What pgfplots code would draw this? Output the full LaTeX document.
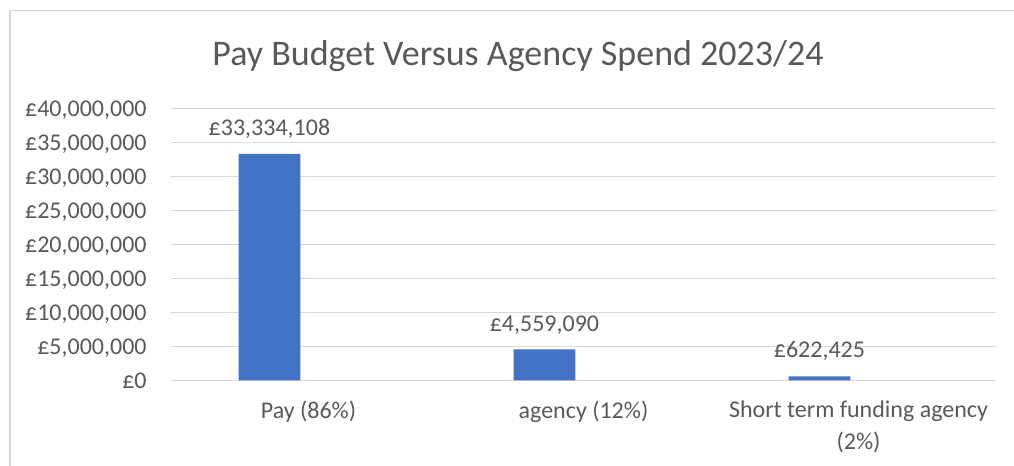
\documentclass[border=0pt]{standalone}
\usepackage{fontspec}
\setmainfont{Carlito}
\usepackage{pgfplots}
\pgfplotsset{compat=1.18}
\definecolor{gridc}{HTML}{D9D9D9}
\definecolor{txt}{HTML}{595959}
\definecolor{barc}{HTML}{4472C4}
\begin{document}
\begin{tikzpicture}
\useasboundingbox (0pt,0pt) rectangle (507pt,233pt);
\draw[gridc, line width=0.75pt] (5pt,0pt) -- (5pt,227.75pt) -- (507pt,227.75pt);
\node[anchor=base, text=txt, font=\fontsize{18}{22}\selectfont, inner sep=0pt] at (259pt,200pt) {Pay Budget Versus Agency Spend 2023/24};
\begin{axis}[
  at={(85.5pt,42.75pt)}, anchor=origin,
  scale only axis, width=412.5pt, height=136pt,
  xmin=0.5, xmax=3.5, ymin=0, ymax=40000000,
  axis line style={draw=none},
  tick style={draw=none},
  ymajorgrids, grid style={gridc, line width=0.75pt},
  ytick={0,5000000,10000000,15000000,20000000,25000000,30000000,35000000,40000000},
  yticklabels={{£0},{£5,000,000},{£10,000,000},{£15,000,000},{£20,000,000},{£25,000,000},{£30,000,000},{£35,000,000},{£40,000,000}},
  scaled y ticks=false,
  yticklabel style={anchor=base east, inner sep=0pt, xshift=-12pt, yshift=-3.8pt, text=txt, font=\fontsize{12}{14}\selectfont},
  xtick={1,2,3},
  xticklabels={{Pay (86\%)},{agency (12\%)},{Short term funding agency\\(2\%)}},
  xticklabel style={anchor=north, inner sep=0pt, yshift=-10.1pt, text=txt, align=center, font=\fontsize{12}{16}\selectfont},
  clip=false,
]
\addplot[ybar, bar width=0.225, fill=barc, draw=none,
  point meta=explicit symbolic,
  nodes near coords,
  nodes near coords style={anchor=base, inner sep=0pt, yshift=9.2pt, text=txt, font=\fontsize{12}{14}\selectfont}]
coordinates {
(0.858,33334108) [£33,334,108]
(1.858,4559090) [£4,559,090]
(2.858,622425) [£622,425]
};
\end{axis}
\end{tikzpicture}
\end{document}
